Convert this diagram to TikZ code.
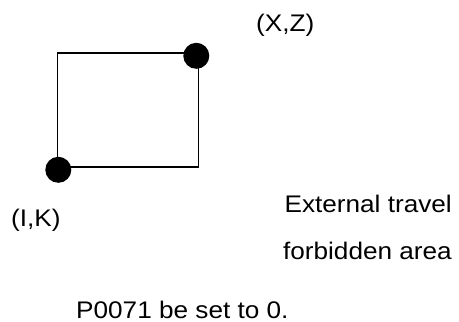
\documentclass[tikz,border=0pt]{standalone}
\usepackage{fontspec}
\setmainfont{Liberation Sans}
\newfontfamily\widesans[FakeStretch=1.09]{Liberation Sans}
\begin{document}
\begin{tikzpicture}[x=1pt,y=-1pt,
  lbl/.style={inner sep=0pt,font=\widesans\fontsize{24}{28}\selectfont},
  dot/.style={circle,fill=black,inner sep=0pt,minimum size=26pt},
  edge/.style={line width=1.8pt}]
\useasboundingbox (0,0) rectangle (459,322);
\coordinate (tl) at (57.5,52.7);
\coordinate (br) at (198.5,166.7);
\coordinate (tr) at (198.5,52.7);
\coordinate (bl) at (57.5,166.7);
\draw[edge] (bl) -- (tl) -- (tr) -- (br) -- (bl);
\node[dot] (xz) at (196.3,55.8) {};
\node[dot] (ik) at (58.3,169.8) {};
\node[lbl,anchor=base west] (lxz) at (256,31.5) {(X,Z)};
\node[lbl,anchor=base west] (lik) at (11,226) {(I,K)};
\node[lbl,anchor=base east] (ext) at (452,212) {External travel};
\node[lbl,anchor=base east] (forb) at (452,259) {forbidden area};
\node[lbl,anchor=base west] (p71) at (76,318) {P0071 be set to 0.};
\end{tikzpicture}
\end{document}
